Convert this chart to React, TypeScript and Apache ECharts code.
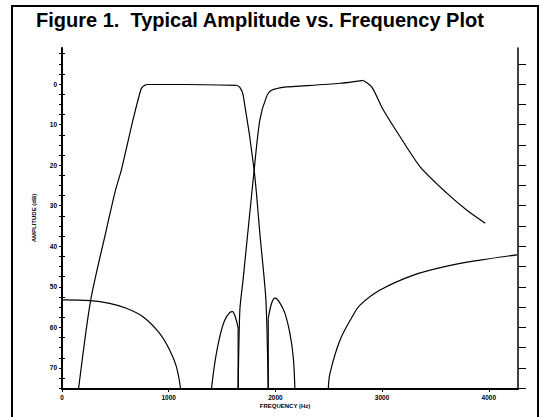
import { useEffect, useRef } from "react";
import * as echarts from "echarts";

const titleText = "Figure 1.  Typical Amplitude vs. Frequency Plot";
const xTickValues = [0, 1000, 2000, 3000, 4000];
const yLabelValues = [0, 10, 20, 30, 40, 50, 60, 70];
const leftTickValues = [-7.5, -5, -2.5, 0, 2.5, 5, 7.5, 10, 12.5, 15, 17.5, 20, 22.5, 25, 27.5, 30, 32.5, 35, 37.5, 40, 42.5, 45, 47.5, 50, 52.5, 55, 57.5, 60, 62.5, 65, 67.5, 70, 72.5, 75];
const rightMajorTicks = [-5, 0, 5, 10, 15, 20, 25, 30, 35, 40, 45, 50, 55, 60, 65, 70, 75];
const rightMinorTicks = [-7.5, -2.5, 2.5, 7.5, 12.5, 17.5, 22.5, 27.5, 32.5, 37.5, 42.5, 47.5, 52.5, 57.5, 62.5, 67.5, 72.5];

// low band filter (Hz, dB)
const lowBandRise: [number, number][] = [
  [155, 75.2], [268, 53.4], [415, 36], [502, 26.1], [556, 21.2], [665, 8.9], [743, 1.1], [775, 0.3], [800, 0.1],
  [1150, 0.1], [1636, 0.3],
];
const lowBandFall: [number, number][] = [
  [1636, 0.3], [1667, 0.8], [1698, 2.7], [1801, 21.2], [1857, 37.6], [1911, 53.2], [1933, 75.2],
];
const lowBandNotch: [number, number][] = [[1933, 75.2], [1933, 57.8]];
const lowBandLobe: [number, number][] = [
  [1933, 57.8], [1964, 54.1], [1995, 52.8], [2036, 53.7], [2089, 56.5], [2136, 61.5], [2167, 67.2], [2183, 75.2],
];
const lowBandStop: [number, number][] = [
  [2496, 75.2], [2512, 71.3], [2606, 63.1], [2731, 56.9], [2793, 54.5], [2981, 50.8], [3294, 47.1], [3607, 44.9], [3920, 43.4], [4265, 42.1],
];
// high band filter (Hz, dB)
const highBandStop: [number, number][] = [
  [0, 53.2], [268, 53.4], [446, 54.1], [603, 55.3], [759, 57.4], [915, 61.5], [1009, 65.6], [1072, 69.7], [1112, 75.2],
];
const highBandLobe: [number, number][] = [
  [1401, 75.2], [1432, 68.8], [1479, 62.3], [1526, 58.2], [1573, 56.3], [1598, 56.1], [1629, 57.8], [1651, 60.2],
];
const highBandNotch: [number, number][] = [[1651, 60.2], [1651, 75.2]];
const highBandRise: [number, number][] = [
  [1651, 75.2], [1667, 55.7], [1697, 48.3], [1801, 21.2], [1854, 8.9], [1917, 3.1], [1964, 1.5], [2105, 0.7], [2230, 0.5], [2606, -0.2],
  [2793, -0.8], [2825, -0.9],
];
const highBandFall: [number, number][] = [
  [2825, -0.9], [2903, 0.7], [3012, 6.4], [3169, 13], [3357, 20.4], [3607, 26.9], [3795, 31.1], [3967, 34.3],
];

const FONT = '"Liberation Sans", Arial, sans-serif';

export default function App() {
  const ref = useRef<HTMLDivElement>(null);
  useEffect(() => {
    if (!ref.current) return;
    const chart = echarts.init(ref.current, null, { renderer: "svg" });
    const lineSeries = (data: [number, number][], smooth: number) => ({
      type: "line",
      data,
      showSymbol: false,
      symbol: "none",
      smooth,
      xAxisIndex: 0,
      yAxisIndex: 0,
      lineStyle: { color: "#000", width: 1.2 },
      clip: true,
    });
    const tickLabel = { color: "#000", fontSize: 6.5, fontWeight: "bold", fontFamily: FONT };
    chart.setOption({
      animation: false,
      backgroundColor: "#fff",
      grid: { left: 62, right: 28, top: 48, bottom: 28, containLabel: false },
      xAxis: {
        type: "value",
        min: 0,
        max: 4274,
        position: "bottom",
        axisLine: { show: true, onZero: false, lineStyle: { color: "#000", width: 2 } },
        axisTick: { show: true, customValues: xTickValues, length: 3, lineStyle: { color: "#000", width: 1 } },
        axisLabel: { ...tickLabel, customValues: xTickValues, margin: 5, formatter: (v: number) => String(v) },
        splitLine: { show: false },
      },
      yAxis: [
        {
          type: "value",
          inverse: true,
          min: -8.9,
          max: 75.2,
          position: "left",
          axisLine: { show: true, onZero: false, lineStyle: { color: "#000", width: 2 } },
          axisTick: { show: true, customValues: leftTickValues, length: 3, lineStyle: { color: "#000", width: 1 } },
          axisLabel: { ...tickLabel, customValues: yLabelValues, margin: 5, formatter: (v: number) => String(v) },
          splitLine: { show: false },
        },
        {
          type: "value",
          inverse: true,
          min: -8.9,
          max: 75.2,
          position: "right",
          axisLine: { show: true, onZero: false, lineStyle: { color: "#000", width: 1.5 } },
          axisTick: { show: true, customValues: rightMajorTicks, length: 8, lineStyle: { color: "#000", width: 1 } },
          axisLabel: { show: false },
          splitLine: { show: false },
        },
        {
          type: "value",
          inverse: true,
          min: -8.9,
          max: 75.2,
          position: "right",
          axisLine: { show: false },
          axisTick: { show: true, customValues: rightMinorTicks, length: 3, lineStyle: { color: "#000", width: 1 } },
          axisLabel: { show: false },
          splitLine: { show: false },
        },
      ],
      series: [
        lineSeries(lowBandRise, 0.25),
        lineSeries(lowBandFall, 0.25),
        lineSeries(lowBandNotch, 0),
        lineSeries(lowBandLobe, 0.35),
        lineSeries(lowBandStop, 0.35),
        lineSeries(highBandStop, 0.35),
        lineSeries(highBandLobe, 0.35),
        lineSeries(highBandNotch, 0),
        lineSeries(highBandRise, 0.25),
        lineSeries(highBandFall, 0.25),
      ],
      graphic: [
        { type: "rect", shape: { x: 12, y: 6, width: 526, height: 420 }, style: { fill: "none", stroke: "#000", lineWidth: 2 } },
        { type: "text", x: 36, y: 10, style: { text: titleText, font: `bold 20px ${FONT}`, fill: "#000" } },
        { type: "text", x: 34, y: 218, rotation: Math.PI / 2, style: { text: "AMPLITUDE (dB)", font: `bold 6px ${FONT}`, fill: "#000", textAlign: "center", textVerticalAlign: "middle" } },
        { type: "text", x: 285, y: 406, style: { text: "FREQUENCY (Hz)", font: `bold 6px ${FONT}`, fill: "#000", textAlign: "center", textVerticalAlign: "middle" } },
      ],
    });
    return () => chart.dispose();
  }, []);
  return <div ref={ref} style={{ width: 546, height: 417, position: "absolute", left: 0, top: 0 }} />;
}
